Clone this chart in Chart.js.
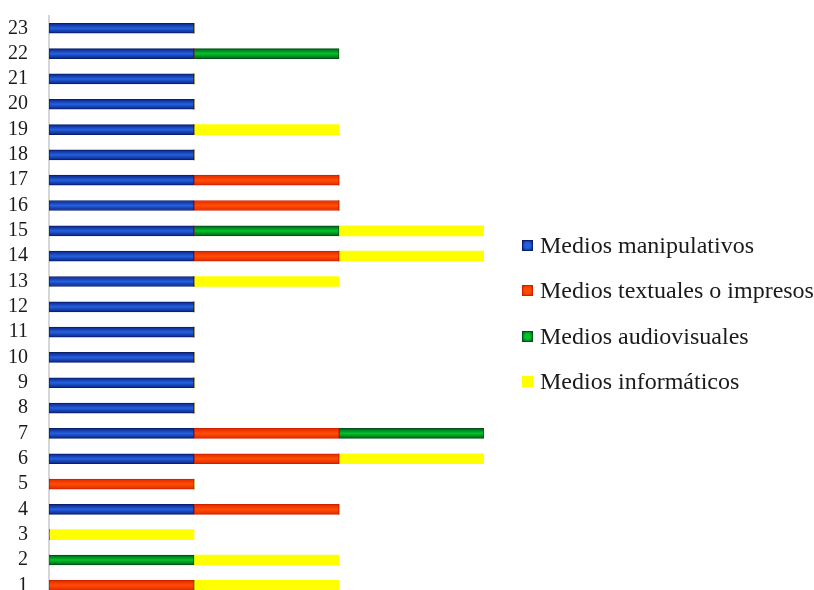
<!DOCTYPE html>
<html>
<head>
<meta charset="utf-8">
<script src="https://cdn.jsdelivr.net/npm/chart.js@4/dist/chart.umd.min.js"></script>
<style>
  html, body { margin: 0; padding: 0; background: #fff; overflow: hidden; }
  #wrap { position: relative; width: 814px; height: 598px; }
  #c { display: block; position: absolute; left: 0; top: 0; }
  #legend { position: absolute; left: 522px; top: 223px; font-family: "Liberation Serif", "Times New Roman", serif; font-size: 24px; color: #1a1a1a; }
  .item { position: relative; height: 45.3px; line-height: 45.3px; white-space: nowrap; }
  .box { position: absolute; left: 0; top: 17px; width: 9px; height: 9px; border: 1px solid; }
  .txt { position: absolute; left: 18px; top: 0; }
</style>
</head>
<body>
<div id="wrap">
  <canvas id="c" width="814" height="598"></canvas>
  <div id="legend"></div>
</div>
<script>
// Rows 1..23 and which resource types each one uses (1 = used)
const categories = ['1','2','3','4','5','6','7','8','9','10','11','12','13','14','15','16','17','18','19','20','21','22','23'];
const manipulativos = [0,0,0,1,0,1,1,1,1,1,1,1,1,1,1,1,1,1,1,1,1,1,1];
const textuales     = [1,0,0,1,1,1,1,0,0,0,0,0,0,1,0,1,1,0,0,0,0,0,0];
const audiovisuales = [0,1,0,0,0,0,1,0,0,0,0,0,0,0,1,0,0,0,0,0,0,1,0];
const informaticos  = [1,1,1,0,0,1,0,0,0,0,0,0,1,1,1,0,0,0,1,0,0,0,0];
const seriesNames = ['Medios manipulativos', 'Medios textuales o impresos', 'Medios audiovisuales', 'Medios informáticos'];

const BAR = 10;
const styles = [
  { edge: '#0b2580', mid: '#2460e2', border: '#0a1e6e' },
  { edge: '#e02a00', mid: '#ff4d00', border: '#d02000' },
  { edge: '#006014', mid: '#00c42c', border: '#00501a' },
  { edge: '#ffff00', mid: '#ffff00', border: '#ffff00' }
];

// Shaded fill across the thickness of each bar
function shade(st) {
  return function (ctx) {
    const chart = ctx.chart;
    const ys = chart.scales && chart.scales.y;
    if (!ys || ctx.type !== 'data') return st.mid;
    const y = ys.getPixelForValue(ctx.dataIndex);
    if (!Number.isFinite(y)) return st.mid;
    const g = chart.ctx.createLinearGradient(0, y - BAR / 2, 0, y + BAR / 2);
    g.addColorStop(0, st.edge);
    g.addColorStop(0.5, st.mid);
    g.addColorStop(1, st.edge);
    return g;
  };
}

const values = [manipulativos, textuales, audiovisuales, informaticos];
const datasets = values.map((v, i) => ({
  label: seriesNames[i],
  data: v,
  backgroundColor: shade(styles[i]),
  borderColor: styles[i].border,
  borderWidth: ctx => (ctx.raw ? (i === 3 ? 0 : 1) : 0),
  borderSkipped: false,
  barThickness: BAR
}));

new Chart(document.getElementById('c'), {
  type: 'bar',
  data: { labels: categories, datasets },
  options: {
    indexAxis: 'y',
    responsive: false,
    animation: false,
    layout: { padding: { top: 15.6, right: 330, bottom: 0, left: 0 } },
    plugins: { legend: { display: false }, tooltip: { enabled: false } },
    scales: {
      x: { stacked: true, min: 0, max: 3, display: false },
      y: {
        stacked: true,
        reverse: true,
        afterFit: s => { s.width = 49; s.paddingTop = 0; s.paddingBottom = 0; },
        grid: { display: false, drawTicks: false },
        border: { display: true, color: '#d6d6d6', width: 2 },
        ticks: { autoSkip: false, padding: 21, color: '#1a1a1a', font: { family: '"Liberation Serif", "Times New Roman", serif', size: 20 } }
      }
    }
  }
});

// Legend
const legend = document.getElementById('legend');
seriesNames.forEach((name, i) => {
  const st = styles[i];
  const item = document.createElement('div');
  item.className = 'item';
  const box = document.createElement('span');
  box.className = 'box';
  box.style.background = i === 3 ? st.mid : 'radial-gradient(circle, ' + st.mid + ' 40%, ' + st.edge + ' 100%)';
  box.style.borderColor = st.border;
  const txt = document.createElement('span');
  txt.className = 'txt';
  txt.textContent = name;
  item.appendChild(box);
  item.appendChild(txt);
  legend.appendChild(item);
});
</script>
</body>
</html>
